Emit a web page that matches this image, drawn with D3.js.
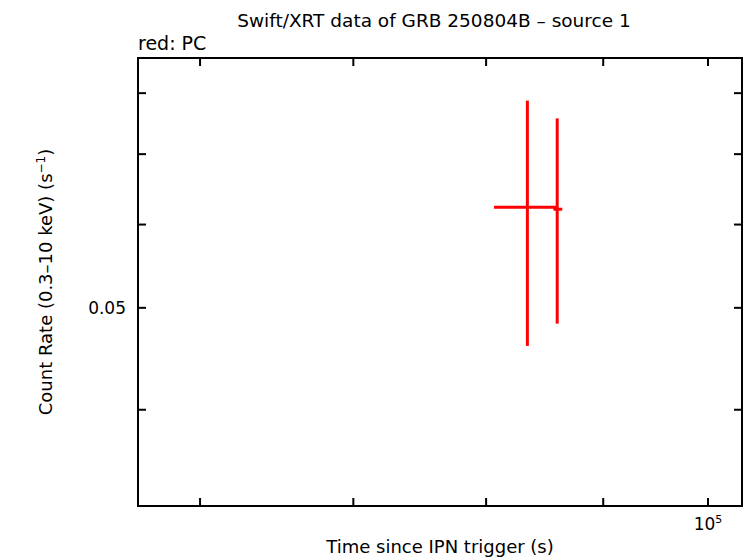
<!DOCTYPE html>
<html>
<head>
<meta charset="utf-8">
<script src="https://cdn.jsdelivr.net/npm/d3@7"></script>
<style>
  body { margin: 0; background: #fff; }
  text { font-family: "DejaVu Sans", sans-serif; fill: #000; }
</style>
</head>
<body>
<svg id="chart" width="746" height="558"></svg>
<script>
// PC mode points: time (s), time errors, rate, rate errors
const times = [83390, 85930];
const timeLo = [80640, 85600];
const timeHi = [85910, 86370];
const rates = [0.0623, 0.06205];
const rateLo = [0.0460, 0.0483];
const rateHi = [0.0787, 0.0757];

const xTicks = [60000, 70000, 80000, 90000, 100000];
const yTicks = [0.04, 0.05, 0.06, 0.07, 0.08];
const xDomain = [56370, 103480];
const yDomain = [0.0324, 0.0864];

const svg = d3.select("#chart");
const margin = { top: 58, right: 4, bottom: 52, left: 138 };
const width = 746 - margin.left - margin.right,
  height = 558 - margin.top - margin.bottom;

const g = svg.append("g")
  .attr("transform", "translate(" + margin.left + "," + margin.top + ")");

const xScale = d3.scaleLog().domain(xDomain).range([0, width]);
const yScale = d3.scaleLog().domain(yDomain).range([height, 0]);

//===== ticks (inside, on both sides) =====
const tickLen = 8;
g.selectAll(".xtb").data(xTicks).enter().append("line")
  .attr("x1", d => xScale(d)).attr("x2", d => xScale(d))
  .attr("y1", height).attr("y2", height - tickLen)
  .attr("stroke", "#000").attr("stroke-width", 2);
g.selectAll(".xtt").data(xTicks).enter().append("line")
  .attr("x1", d => xScale(d)).attr("x2", d => xScale(d))
  .attr("y1", 0).attr("y2", tickLen)
  .attr("stroke", "#000").attr("stroke-width", 2);
g.selectAll(".ytl").data(yTicks).enter().append("line")
  .attr("y1", d => yScale(d)).attr("y2", d => yScale(d))
  .attr("x1", 0).attr("x2", tickLen)
  .attr("stroke", "#000").attr("stroke-width", 2);
g.selectAll(".ytr").data(yTicks).enter().append("line")
  .attr("y1", d => yScale(d)).attr("y2", d => yScale(d))
  .attr("x1", width).attr("x2", width - tickLen)
  .attr("stroke", "#000").attr("stroke-width", 2);

// frame
g.append("rect")
  .attr("width", width).attr("height", height)
  .attr("fill", "none").attr("stroke", "#000").attr("stroke-width", 2);

// tick labels
g.append("text")
  .attr("x", -12).attr("y", yScale(0.05) + 6)
  .attr("text-anchor", "end").style("font-size", "17px")
  .text("0.05");
const xl = g.append("text")
  .attr("x", xScale(100000)).attr("y", height + 24)
  .attr("text-anchor", "middle").style("font-size", "17px");
xl.append("tspan").text("10");
xl.append("tspan").attr("dy", -7).style("font-size", "11px").text("5");

//===== error bars =====
const pts = times.map((t, i) => ({
  t: t, tl: timeLo[i], th: timeHi[i], r: rates[i], rl: rateLo[i], rh: rateHi[i]
}));
g.selectAll(".ex").data(pts).enter().append("line")
  .attr("x1", d => xScale(d.tl)).attr("x2", d => xScale(d.th))
  .attr("y1", d => yScale(d.r)).attr("y2", d => yScale(d.r))
  .attr("stroke", "#ff0000").attr("stroke-width", 3);
g.selectAll(".ey").data(pts).enter().append("line")
  .attr("x1", d => xScale(d.t)).attr("x2", d => xScale(d.t))
  .attr("y1", d => yScale(d.rl)).attr("y2", d => yScale(d.rh))
  .attr("stroke", "#ff0000").attr("stroke-width", 3);

//===== titles =====
svg.append("text")
  .attr("x", 434).attr("y", 27)
  .attr("text-anchor", "middle").style("font-size", "18.5px")
  .text("Swift/XRT data of GRB 250804B \u2013 source 1");
svg.append("text")
  .attr("x", 138).attr("y", 50)
  .style("font-size", "19px")
  .text("red: PC");
svg.append("text")
  .attr("x", margin.left + width / 2).attr("y", 553)
  .attr("text-anchor", "middle").style("font-size", "18px")
  .text("Time since IPN trigger (s)");
const yl = svg.append("text")
  .attr("transform", "translate(52," + (margin.top + height / 2) + ") rotate(-90)")
  .attr("text-anchor", "middle").style("font-size", "18px");
yl.append("tspan").text("Count Rate (0.3\u201310 keV) (s");
yl.append("tspan").attr("dy", -7).style("font-size", "12px").text("\u22121");
yl.append("tspan").attr("dy", 7).text(")");
</script>
</body>
</html>
